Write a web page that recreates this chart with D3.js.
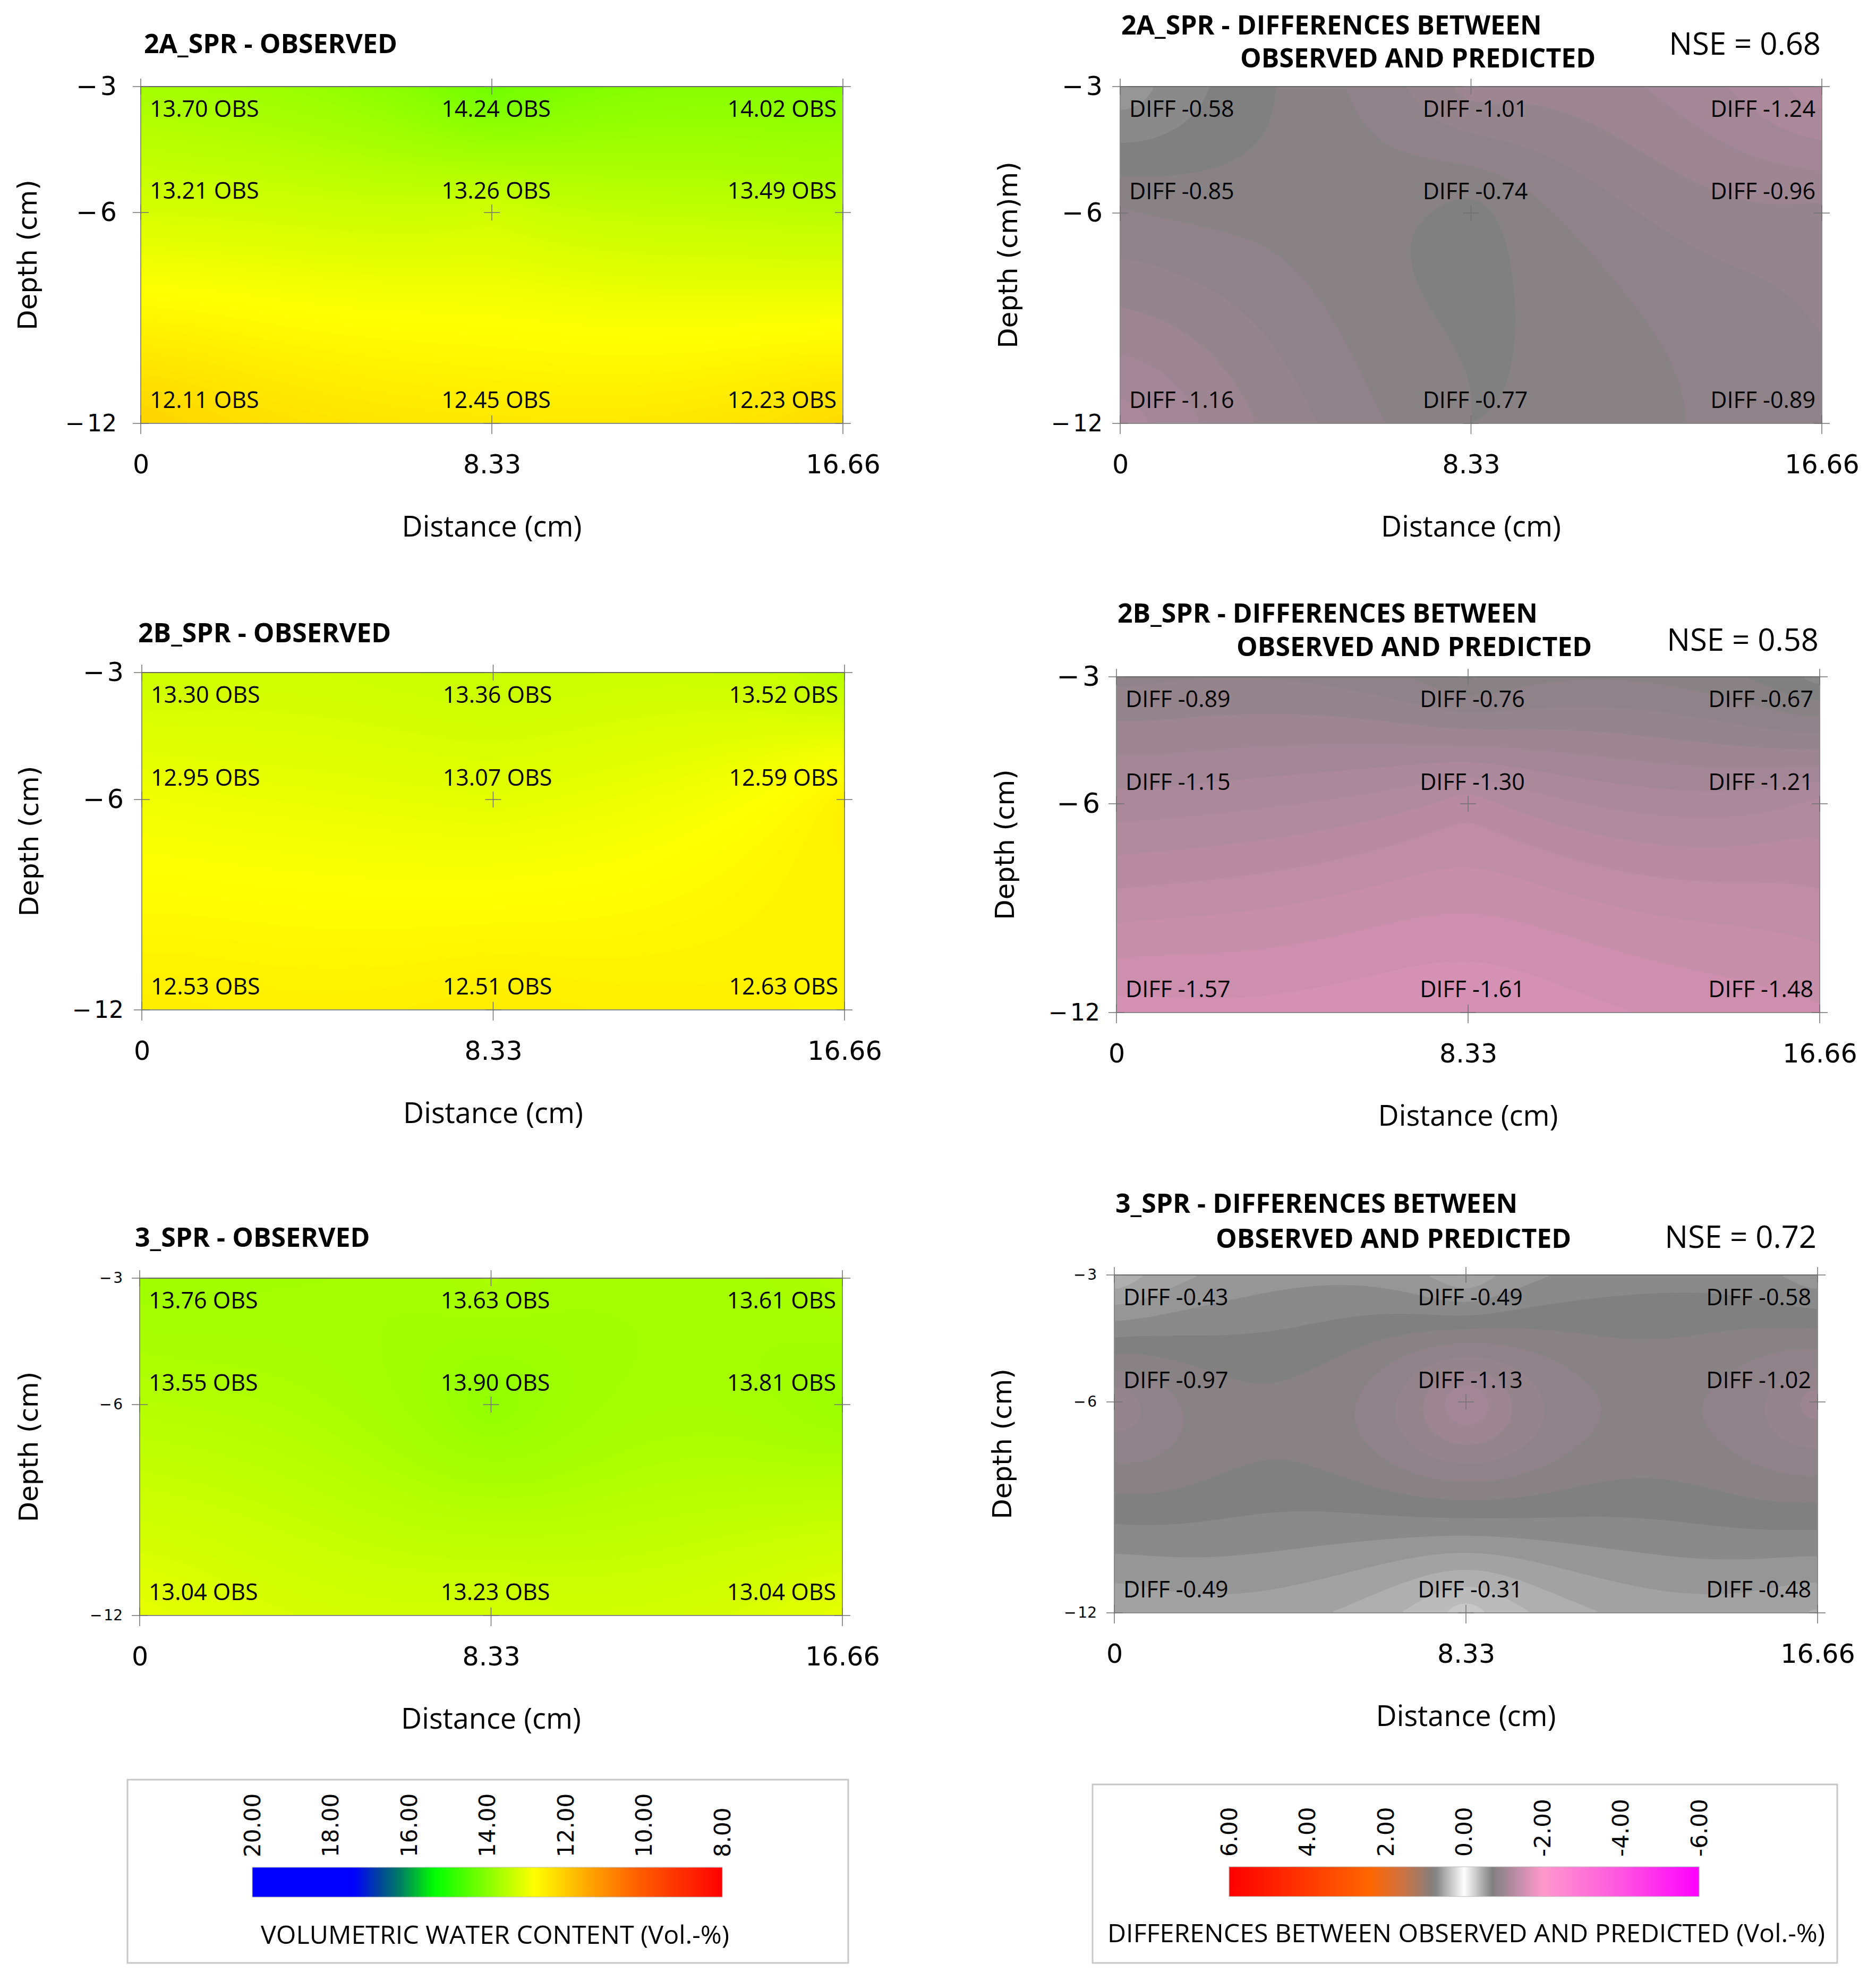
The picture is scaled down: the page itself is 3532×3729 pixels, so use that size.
<!DOCTYPE html>
<html lang="en">
<head>
<meta charset="UTF-8">
<style>
    body {margin: 0; background: #ffffff;}
    svg text {font-family: "Open Sans", "Liberation Sans", sans-serif; fill: #000;}
</style>
</head>
<body>
<svg id="chart" width="3532" height="3729"></svg>

<script src="https://cdn.jsdelivr.net/npm/d3@7"></script>
<script>

// grid nodes of the soil profile
var distances = [0, 8.33, 16.66];
var depths = [-3, -6, -12];

// rows = depths (-3, -6, -12), columns = distances
var obs2A  = [[13.70, 14.24, 14.02], [13.21, 13.26, 13.49], [12.11, 12.45, 12.23]];
var diff2A = [[-0.58, -1.01, -1.24], [-0.85, -0.74, -0.96], [-1.16, -0.77, -0.89]];
var obs2B  = [[13.30, 13.36, 13.52], [12.95, 13.07, 12.59], [12.53, 12.51, 12.63]];
var diff2B = [[-0.89, -0.76, -0.67], [-1.15, -1.30, -1.21], [-1.57, -1.61, -1.48]];
var obs3   = [[13.76, 13.63, 13.61], [13.55, 13.90, 13.81], [13.04, 13.23, 13.04]];
var diff3  = [[-0.43, -0.49, -0.58], [-0.97, -1.13, -1.02], [-0.49, -0.31, -0.48]];

var nseValues = [0.68, 0.58, 0.72];

// legend tick labels
var waterTicks = [20, 18, 16, 14, 12, 10, 8];
var diffTicks = [6, 4, 2, 0, -2, -4, -6];

// colour ramps
var waterColor = d3.scaleLinear()
    .domain([20, 17.4, 16.8, 16.2, 15.35, 12.8, 11.4, 10.2, 8])
    .range(["#0000ff", "#0000ff", "#0040a0", "#008060", "#00ff00", "#ffff00", "#ffa500", "#ff6000", "#ff0000"])
    .clamp(true);
var diffColor = d3.scaleLinear()
    .domain([6, 4.2, 2.4, 1.6, 0.75, 0, -0.72, -2, -4, -6])
    .range(["#ff0000", "#ff3300", "#ff6600", "#d07040", "#808080", "#ffffff", "#808080", "#ff99cc", "#ff55e0", "#ff00ff"])
    .clamp(true);

// panel layout
var panels = [
    {grid: obs2A, kind: "obs", x0: 265, x1: 1587, y0: 163, y6: 400, y1: 797,
        title: [["2A_SPR - OBSERVED", 271, 100]], gap: 45, tickFs: [49, 49, 44], depthX: 51, depthText: "Depth (cm)"},
    {grid: diff2A, kind: "diff", x0: 2109, x1: 3430, y0: 163, y6: 401, y1: 797, nse: 0, nseY: 103,
        title: [["2A_SPR - DIFFERENCES BETWEEN", 2111, 65], ["OBSERVED AND PREDICTED", 2335, 127]],
        gap: 33, tickFs: [49, 49, 44], depthX: 1897, depthText: "Depth (cm)m)"},
    {grid: obs2B, kind: "obs", x0: 267, x1: 1590, y0: 1266, y6: 1505, y1: 1901,
        title: [["2B_SPR - OBSERVED", 260, 1209]], gap: 34, tickFs: [49, 49, 44], depthX: 54, depthText: "Depth (cm)"},
    {grid: diff2B, kind: "diff", x0: 2102, x1: 3426, y0: 1274, y6: 1513, y1: 1906, nse: 1, nseY: 1225,
        title: [["2B_SPR - DIFFERENCES BETWEEN", 2104, 1172], ["OBSERVED AND PREDICTED", 2328, 1235]],
        gap: 31, tickFs: [52, 52, 44], depthX: 1891, depthText: "Depth (cm)"},
    {grid: obs3, kind: "obs", x0: 263, x1: 1586, y0: 2406, y6: 2644, y1: 3041,
        title: [["3_SPR - OBSERVED", 254, 2347]], gap: 32, tickFs: [28, 28, 28], depthX: 53, depthText: "Depth (cm)"},
    {grid: diff3, kind: "diff", x0: 2098, x1: 3422, y0: 2400, y6: 2639, y1: 3036, nse: 2, nseY: 2349,
        title: [["3_SPR - DIFFERENCES BETWEEN", 2100, 2283], ["OBSERVED AND PREDICTED", 2289, 2349]],
        gap: 33, tickFs: [28, 28, 28], depthX: 1886, depthText: "Depth (cm)"}
];

var svg = d3.select("#chart");

// plain gaussian elimination, used for the kriging weights
function solve(A, b) {
    var n = b.length, M = A.map(function (row, i) { return row.concat([b[i]]); });
    for (var k = 0; k < n; k++) {
        var piv = k;
        for (var r = k + 1; r < n; r++) if (Math.abs(M[r][k]) > Math.abs(M[piv][k])) piv = r;
        var tmp = M[k]; M[k] = M[piv]; M[piv] = tmp;
        for (var r2 = k + 1; r2 < n; r2++) {
            var f = M[r2][k] / M[k][k];
            for (var c = k; c <= n; c++) M[r2][c] -= f * M[k][c];
        }
    }
    var xs = new Array(n);
    for (var i = n - 1; i >= 0; i--) {
        var s = M[i][n];
        for (var j = i + 1; j < n; j++) s -= M[i][j] * xs[j];
        xs[i] = s / M[i][i];
    }
    return xs;
}

panels.forEach(function (p) {
    var g = svg.append("g");
    var x = d3.scaleLinear().domain([0, 16.66]).range([p.x0, p.x1]);
    var y = d3.scaleLinear().domain(depths).range([p.y0, p.y6, p.y1]);
    var color = p.kind === "obs" ? waterColor : diffColor;
    var step = p.kind === "obs" ? 0.04 : 0.07;

    // ordinary kriging with a linear variogram (dual form)
    var pts = [];
    p.grid.forEach(function (row, r) {
        row.forEach(function (v, c) { pts.push([x(distances[c]), y(depths[r]), v]); });
    });
    var A = [], b = [];
    pts.forEach(function (pi) {
        A.push(pts.map(function (pj) { return Math.hypot(pi[0] - pj[0], pi[1] - pj[1]); }).concat([1]));
        b.push(pi[2]);
    });
    A.push(pts.map(function () { return 1; }).concat([0]));
    b.push(0);
    var coef = solve(A, b);
    function field(px, py) {
        var v = coef[pts.length];
        for (var k = 0; k < pts.length; k++) v += coef[k] * Math.hypot(px - pts[k][0], py - pts[k][1]);
        return v;
    }

    // filled contour bands
    var w = p.x1 - p.x0, h = p.y1 - p.y0;
    var n = Math.round(w / 5), m = Math.round(h / 5);
    var values = new Array(n * m);
    for (var j = 0; j < m; j++)
        for (var i = 0; i < n; i++)
            values[j * n + i] = field(p.x0 + (i + 0.5) * w / n, p.y0 + (j + 0.5) * h / m);
    var ext = d3.extent(values);
    var th = d3.range(Math.floor(ext[0] / step) * step, ext[1], step);
    var bands = d3.contours().size([n, m]).thresholds(th)(values);
    var proj = d3.geoTransform({
        point: function (cx, cy) { this.stream.point(p.x0 + cx * w / n, p.y0 + cy * h / m); }
    });
    g.selectAll("path.band")
        .data(bands)
        .enter().append("path")
        .attr("class", "band")
        .attr("d", d3.geoPath(proj))
        .attr("fill", function (d) { return color(d.value + step / 2); });

    // frame
    g.append("rect")
        .attr("x", p.x0).attr("y", p.y0)
        .attr("width", w).attr("height", h)
        .attr("fill", "none").attr("stroke", "#8a8a8a").attr("stroke-width", 2);
    g.append("line")
        .attr("x1", p.x0).attr("x2", p.x1).attr("y1", p.y0).attr("y2", p.y0)
        .attr("stroke", "#666").attr("stroke-width", 2);

    // grid crosses
    var nodes = [];
    depths.forEach(function (dv) { distances.forEach(function (xv) { nodes.push([xv, dv]); }); });
    var cross = g.selectAll("g.cross").data(nodes).enter().append("g").attr("class", "cross");
    cross.append("line")
        .attr("x1", function (d) { return x(d[0]) - 15; })
        .attr("x2", function (d) { return x(d[0]) + 15; })
        .attr("y1", function (d) { return y(d[1]); })
        .attr("y2", function (d) { return y(d[1]); });
    cross.append("line")
        .attr("x1", function (d) { return x(d[0]); })
        .attr("x2", function (d) { return x(d[0]); })
        .attr("y1", function (d) { return y(d[1]) - 15; })
        .attr("y2", function (d) { return y(d[1]) + (d[1] === -12 ? 20 : 15); });
    cross.selectAll("line").attr("stroke", "#707070").attr("stroke-width", 1.5);

    // x axis
    var xa = g.append("g")
        .attr("transform", "translate(0," + p.y1 + ")")
        .call(d3.axisBottom(x).tickValues(distances).tickFormat(function (d) { return String(d); })
            .tickSize(0).tickPadding(59));
    xa.select(".domain").remove();
    xa.selectAll("text")
        .style("font-family", "'DejaVu Sans'")
        .attr("font-size", 49);

    // y axis
    var ya = g.append("g")
        .attr("transform", "translate(" + p.x0 + ",0)")
        .call(d3.axisLeft(y).tickValues(depths).tickFormat(function (d) { return "\u2212\u200A" + Math.abs(d); })
            .tickSize(0).tickPadding(p.gap));
    ya.select(".domain").remove();
    ya.selectAll("text")
        .style("font-family", "'DejaVu Sans'")
        .attr("font-size", function (d, i) { return p.tickFs[i]; });

    // value labels at grid nodes
    var cells = [];
    p.grid.forEach(function (row, r) { row.forEach(function (v, c) { cells.push({r: r, c: c, v: v}); }); });
    g.selectAll("text.val")
        .data(cells)
        .enter().append("text")
        .attr("class", "val")
        .attr("font-size", 43)
        .attr("text-anchor", function (d) { return ["start", "middle", "end"][d.c]; })
        .attr("x", function (d) { return [p.x0 + 17, x(distances[1]) + 8, p.x1 - 12][d.c]; })
        .attr("y", function (d) { return [p.y0 + 57, y(depths[1]) - 26, p.y1 - 29][d.r]; })
        .text(function (d) {
            return p.kind === "obs" ? d.v.toFixed(2) + " OBS" : "DIFF " + d.v.toFixed(2);
        });

    // axis titles
    g.append("text")
        .attr("transform", "translate(" + p.depthX + "," + (p.y0 + p.y1) / 2 + ") rotate(-90)")
        .attr("text-anchor", "middle")
        .attr("dy", "0.35em")
        .style("font-family", "'DejaVu Sans'")
        .attr("font-size", 50)
        .text(p.depthText);
    g.append("text")
        .attr("x", x(distances[1]))
        .attr("y", p.y1 + 213)
        .attr("text-anchor", "middle")
        .attr("font-size", 54)
        .text("Distance (cm)");

    // panel title
    g.selectAll("text.title")
        .data(p.title)
        .enter().append("text")
        .attr("class", "title")
        .attr("x", function (d) { return d[1]; })
        .attr("y", function (d) { return d[2]; })
        .attr("font-size", 50)
        .attr("font-weight", "bold")
        .text(function (d) { return d[0]; });

    if (p.kind === "diff") {
        g.append("text")
            .attr("x", p.x1 - 2)
            .attr("y", p.nseY)
            .attr("text-anchor", "end")
            .attr("font-size", 58)
            .text("NSE = " + nseValues[p.nse].toFixed(2));
    }
});

// colour legends
function legend(id, color, ticks, box, bar, caption) {
    var g = svg.append("g");
    g.append("rect")
        .attr("x", box[0]).attr("y", box[1]).attr("width", box[2] - box[0]).attr("height", box[3] - box[1])
        .attr("fill", "#fff").attr("stroke", "#c8c8c8").attr("stroke-width", 3);

    var s = d3.scaleLinear().domain([ticks[0], ticks[ticks.length - 1]]).range([bar[0], bar[1]]);
    var grad = svg.append("defs").append("linearGradient").attr("id", id);
    grad.selectAll("stop")
        .data(d3.range(0, 1.0001, 0.01))
        .enter().append("stop")
        .attr("offset", function (t) { return t; })
        .attr("stop-color", function (t) { return color(s.invert(bar[0] + t * (bar[1] - bar[0]))); });
    g.append("rect")
        .attr("x", bar[0]).attr("y", bar[2]).attr("width", bar[1] - bar[0]).attr("height", bar[3] - bar[2])
        .attr("fill", "url(#" + id + ")").attr("stroke", "#bbb").attr("stroke-width", 1);

    g.selectAll("text.tick")
        .data(ticks)
        .enter().append("text")
        .attr("class", "tick")
        .attr("transform", function (d) { return "translate(" + s(d) + "," + (bar[2] - 19) + ") rotate(-90)"; })
        .attr("dy", "0.35em")
        .style("font-family", "'DejaVu Sans'")
        .attr("font-size", 42)
        .text(function (d) { return d.toFixed(2); });

    g.append("text")
        .attr("x", caption[1]).attr("y", caption[2])
        .attr("font-size", 48)
        .attr("textLength", caption[3])
        .attr("lengthAdjust", "spacingAndGlyphs")
        .text(caption[0]);
}

legend("waterGrad", waterColor, waterTicks, [240, 3350, 1597, 3695], [475, 1360, 3515, 3571],
    ["VOLUMETRIC WATER CONTENT (Vol.-%)", 491, 3659, 882]);
legend("diffGrad", diffColor, diffTicks, [2057, 3359, 3459, 3695], [2314, 3199, 3514, 3570],
    ["DIFFERENCES BETWEEN OBSERVED AND PREDICTED (Vol.-%)", 2085, 3656, 1351]);

</script>
</body>
</html>
